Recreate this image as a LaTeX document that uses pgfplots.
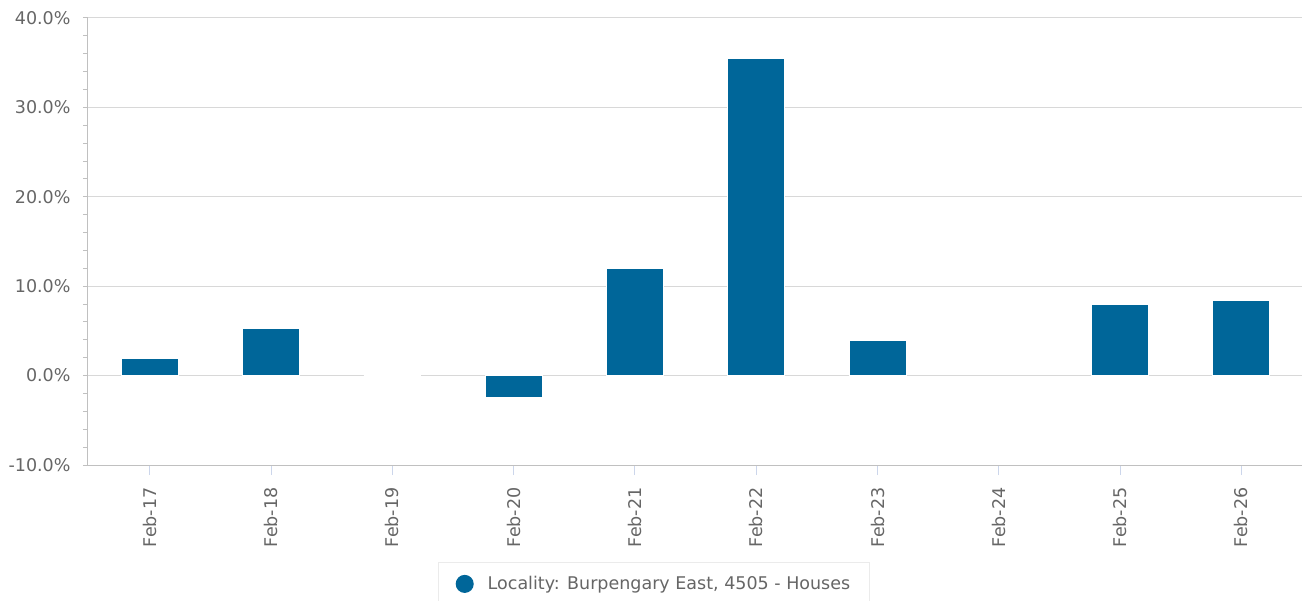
\documentclass[border=0pt]{standalone}
\usepackage{fontspec}
\setmainfont{DejaVu Sans}
\usepackage{pgfplots}
\pgfplotsset{compat=1.18}
\definecolor{barblue}{RGB}{0,102,153}
\definecolor{txtgray}{RGB}{102,102,102}
\definecolor{gridgray}{RGB}{216,216,216}
\definecolor{axgray}{RGB}{192,192,192}
\definecolor{tickblue}{RGB}{204,214,235}
\definecolor{legborder}{RGB}{235,235,235}
\begin{document}
\begin{tikzpicture}[x=1pt,y=1pt]
\useasboundingbox (0,0) rectangle (1306,600);
\begin{axis}[
  at={(88pt,135pt)}, anchor=south west,
  scale only axis, width=1214pt, height=447pt,
  ymin=-10, ymax=40, xmin=-0.51, xmax=9.5,
  ytick={-10,0,...,40}, minor y tick num=4,
  xtick={0,...,9},
  xticklabels={Feb-17,Feb-18,Feb-19,Feb-20,Feb-21,Feb-22,Feb-23,Feb-24,Feb-25,Feb-26},
  xticklabel style={rotate=90, anchor=east, xshift=-9pt},
  ymajorgrids, major grid style={gridgray, line width=1pt},
  axis x line=bottom, axis y line=left,
  axis line style={-, axgray, line width=1pt},
  tick align=outside,
  major tick length=10pt, minor tick length=5pt,
  xtick style={tickblue, line width=1pt},
  ytick style={axgray, line width=1pt, /pgfplots/major tick length=5pt},
  tick label style={font=\fontsize{17.5}{20}\selectfont, text=txtgray},
  yticklabel style={xshift=-4pt},
  /pgf/number format/assume math mode=true,
  yticklabel={\pgfmathprintnumber[fixed, fixed zerofill, precision=1]{\tick}\%},
  legend style={at={(0.4662,-0.217)}, anchor=north, draw=legborder, line width=1pt,
    font=\fontsize{17.5}{20}\selectfont, text=txtgray,
    inner xsep=17pt, inner ysep=12pt, cells={anchor=west}},
  legend image code/.code={\fill[barblue] (6pt,0pt) circle (8.5pt); \path (26.5pt,0pt);},
]
\addplot[ybar, bar width=57pt, fill=barblue, draw=white, line width=1pt]
  coordinates {(0,1.95) (1,5.3) (2,0) (3,-2.5) (4,12.0) (5,35.5) (6,3.95) (8,8.0) (9,8.35)};
\addlegendentry{Locality: Burpengary East, 4505 - Houses}
\end{axis}
\end{tikzpicture}
\end{document}
